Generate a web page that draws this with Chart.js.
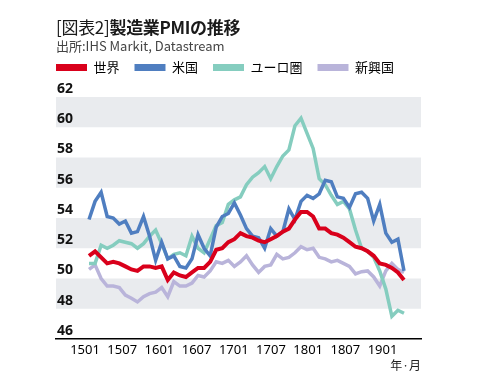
<!DOCTYPE html>
<html><head><meta charset="utf-8">
<script src="https://cdn.jsdelivr.net/npm/chart.js@4/dist/chart.umd.min.js"></script>
<style>
html,body{margin:0;padding:0;background:#fff;}
#wrap{position:relative;width:478px;height:382px;overflow:hidden;}
#title{position:absolute;left:56px;top:16px;font-family:'Noto Sans CJK JP',sans-serif;font-size:17px;line-height:22px;color:#1a1a1a;white-space:nowrap;letter-spacing:-0.3px;}
#title b{font-weight:700;}
#sub{position:absolute;left:56px;top:37px;font-family:'Noto Sans CJK JP',sans-serif;font-size:13px;line-height:17px;color:#444;white-space:nowrap;}
canvas{position:absolute;left:0;top:0;}
</style></head>
<body><div id="wrap">
<canvas id="c" width="478" height="382"></canvas>
<div id="title">[図表2]<b>製造業PMIの推移</b></div>
<div id="sub">出所:IHS Markit, Datastream</div>
</div>
<script>
// Months: 2015-01 .. 2019-05 (index 0..52)
const xTickLabels = ['1501','1507','1601','1607','1701','1707','1801','1807','1901'];
const yTicks = [46,48,50,52,54,56,58,60,62];
const seriesNames = ['世界','米国','ユーロ圏','新興国'];
const world = [51.5,51.8,51.4,51.0,51.1,51.0,50.8,50.6,50.5,50.8,50.8,50.7,
  50.8,49.9,50.4,50.2,50.1,50.4,50.7,50.7,51.1,51.9,52.0,52.4,
  52.6,53.0,52.8,52.7,52.5,52.4,52.6,52.8,53.1,53.3,53.9,54.4,
  54.4,54.1,53.3,53.3,53.0,52.9,52.7,52.4,52.1,52.0,51.8,51.5,
  51.0,50.9,50.7,50.4,49.9];
const us = [53.9,55.1,55.7,54.1,54.0,53.6,53.8,53.0,53.1,54.1,52.8,51.2,
  52.4,51.3,51.5,50.8,50.7,51.3,52.9,52.0,51.5,53.4,54.1,54.3,
  55.0,54.2,53.3,52.8,52.7,52.0,53.3,52.8,53.1,54.6,53.9,55.1,
  55.5,55.3,55.6,56.5,56.4,55.4,55.3,54.7,55.6,55.7,55.3,53.8,
  54.9,53.0,52.4,52.6,50.5];
const euro = [51.0,51.0,52.2,52.0,52.2,52.5,52.4,52.3,52.0,52.3,52.8,53.2,
  52.3,51.3,51.6,51.7,51.5,52.8,52.0,51.7,52.6,53.5,53.7,54.9,
  55.2,55.4,56.2,56.7,57.0,57.4,56.6,57.4,58.1,58.5,60.1,60.6,
  59.6,58.6,56.6,56.2,55.5,54.9,55.1,54.6,53.2,52.0,51.8,51.4,
  50.5,49.3,47.5,47.9,47.7];
const emerging = [50.6,50.9,50.0,49.5,49.5,49.4,48.9,48.7,48.45,48.8,49.0,49.1,
  49.4,48.8,49.8,49.5,49.5,49.7,50.2,50.1,50.5,51.1,51.0,51.2,
  50.8,51.1,51.5,50.9,50.4,50.8,50.9,51.6,51.3,51.4,51.7,52.1,
  51.9,52.0,51.4,51.3,51.1,51.2,51.0,50.8,50.3,50.45,50.5,50.1,
  49.5,50.5,51.0,50.6,50.4];
const bands = [[48,50],[52,54],[56,58],[60,62]];

const colors = ['#d9001b','#4f7ec0','#85cdbf','#b9b4da'];
const allSeries = [world, us, euro, emerging];
const drawOrder = [0,1,2,3];

const bandPlugin = {
  id:'bands',
  beforeDraw(chart){
    const {ctx, chartArea:a, scales:{y}} = chart;
    ctx.save();
    ctx.fillStyle = '#e9ebee';
    bands.forEach(([lo,hi])=>{
      const t = y.getPixelForValue(hi), b = y.getPixelForValue(lo);
      ctx.fillRect(a.left, t, a.right - a.left, b - t);
    });
    ctx.restore();
  }
};

const FONT = "'Noto Sans CJK JP','Noto Sans',sans-serif";

new Chart(document.getElementById('c'), {
  type:'line',
  data:{
    datasets: allSeries.map((s,k)=>({
      label: seriesNames[k],
      data: s.map((v,i)=>({x:i,y:v})),
      borderColor: colors[k],
      backgroundColor: colors[k],
      borderWidth: k===0 ? 4 : 3.5,
      pointRadius: 0,
      tension: 0,
      fill: false,
      borderJoinStyle: 'miter',
      order: drawOrder[k],
      xAxisID: 'x',
      yAxisID: 'y'
    }))
  },
  options:{
    responsive:false,
    animation:false,
    devicePixelRatio:1,
    layout:{padding:{left:41,right:57,top:46,bottom:8}},
    plugins:{
      tooltip:{enabled:false},
      title:{display:false},
      legend:{
        display:true, position:'top', align:'start',
        labels:{
          boxWidth:31, boxHeight:7, padding:15, color:'#222',
          font:{family:FONT, size:13},
          generateLabels:(chart)=>chart.data.datasets.map((d,i)=>({
            text:d.label, fillStyle:d.borderColor, strokeStyle:d.borderColor,
            lineWidth:0, hidden:false, datasetIndex:i
          }))
        }
      }
    },
    scales:{
      x:{type:'linear', min:-5.45, max:54.81, display:false},
      xl:{
        type:'linear', position:'bottom', min:-0.78, max:9.035,
        afterBuildTicks:(s)=>{ s.ticks = xTickLabels.map((_,i)=>({value:i})); },
        afterFit:(s)=>{ s.height = 35; },
        ticks:{autoSkip:false, maxRotation:0, minRotation:0, padding:3, color:'#000',
          font:{family:"'Noto Sans',sans-serif", size:13},
          callback:(v)=>xTickLabels[v]},
        grid:{display:false, drawTicks:false},
        border:{display:true, color:'#000', width:1.5},
        title:{display:true, text:'年·月', align:'end', color:'#222',
          font:{family:FONT, size:12}, padding:{top:0,bottom:1}}
      },
      y:{
        type:'linear', position:'left', min:46, max:62.86,
        afterBuildTicks:(s)=>{ s.ticks = yTicks.map(v=>({value:v})); },
        afterFit:(s)=>{ s.width = 15; },
        ticks:{mirror:true, padding:1, labelOffset:-8, color:'#111',
          font:{family:"'Noto Sans',sans-serif", size:14, weight:'bold'},
          callback:(v)=>String(v)},
        grid:{display:false, drawTicks:false},
        border:{display:false}
      }
    }
  },
  plugins:[bandPlugin]
});
</script>
</body></html>
